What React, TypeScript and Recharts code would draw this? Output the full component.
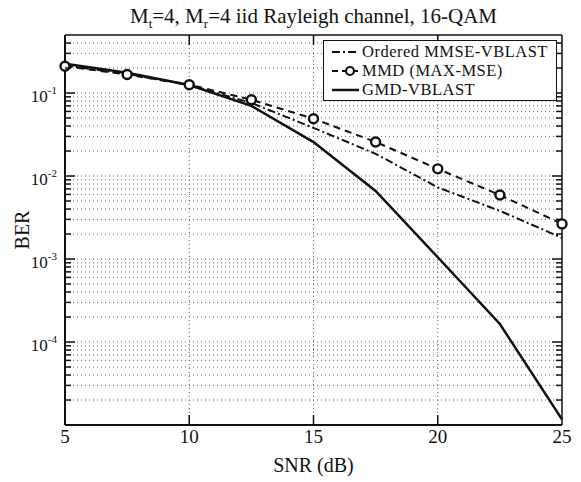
import { LineChart, Line, XAxis, YAxis, ReferenceLine, Legend } from 'recharts';

// SNR points (dB) and BER values
const snr = [5, 7.5, 10, 12.5, 15, 17.5, 20, 22.5, 25];
const orderedMmse = [0.215, 0.17, 0.124, 0.076, 0.038, 0.0185, 0.0073, 0.0038, 0.0018];
const mmd = [0.21, 0.167, 0.126, 0.083, 0.049, 0.0257, 0.0122, 0.0059, 0.00265];
const gmd = [0.225, 0.175, 0.125, 0.07, 0.0256, 0.0066, 0.00105, 0.000165, 0.0000117];

const xTicks = [5, 10, 15, 20, 25];
const xGrid = [10, 15, 20];
const decades = [1e-5, 1e-4, 1e-3, 1e-2, 1e-1];
const labelledDecades = [1e-4, 1e-3, 1e-2, 1e-1];
const decadeExp: Record<string, string> = { '0.0001': '-4', '0.001': '-3', '0.01': '-2', '0.1': '-1' };
const minorSteps = [2, 3, 4, 5, 6, 7, 8, 9];
const yDomain: [number, number] = [1e-5, 0.5];

const data = snr.map((s, i) => ({
  snr: s,
  ordered: orderedMmse[i],
  mmd: mmd[i],
  gmd: gmd[i],
}));

const minorTicks = decades
  .flatMap((d) => minorSteps.map((m) => d * m))
  .filter((v) => v < yDomain[1]);
const yTicks = [...labelledDecades, ...minorTicks];
const gridValues = [...labelledDecades, ...minorTicks];

const FONT = '"Liberation Serif", "Times New Roman", serif';
const INK = '#111';
const GRID = '#666';

const series = [
  { key: 'ordered', name: 'Ordered MMSE-VBLAST', dash: '8 3 2 3', width: 2, marker: false },
  { key: 'mmd', name: 'MMD (MAX-MSE)', dash: '6 4', width: 2, marker: true },
  { key: 'gmd', name: 'GMD-VBLAST', dash: undefined, width: 2.5, marker: false },
];

const isMajor = (v: number) => labelledDecades.some((d) => Math.abs(d - v) < d * 1e-6);

function LeftTick(props: any) {
  const { x, y, payload } = props;
  const v = payload.value;
  const major = isMajor(v);
  return (
    <g>
      <line x1={x} x2={x + (major ? 10 : 6)} y1={y} y2={y} stroke={INK} strokeWidth={1.5} />
      {major && (
        <text x={x - 8} y={y + 9} textAnchor="end" fontFamily={FONT} fontSize={17} fill={INK}>
          10
          <tspan dy={-8} fontSize={11}>
            {decadeExp[String(v)]}
          </tspan>
        </text>
      )}
    </g>
  );
}

function RightTick(props: any) {
  const { x, y, payload } = props;
  const major = isMajor(payload.value);
  return <line x1={x} x2={x - (major ? 10 : 6)} y1={y} y2={y} stroke={INK} strokeWidth={1.5} />;
}

function BottomTick(props: any) {
  const { x, y, payload } = props;
  const inner = payload.value !== 5 && payload.value !== 25;
  return (
    <g>
      {inner && <line x1={x} x2={x} y1={y} y2={y - 10} stroke={INK} strokeWidth={1.5} />}
      <text x={x} y={y + 18} textAnchor="middle" fontFamily={FONT} fontSize={19} fill={INK}>
        {payload.value}
      </text>
    </g>
  );
}

function TopTick(props: any) {
  const { x, y } = props;
  return <line x1={x} x2={x} y1={y} y2={y + 10} stroke={INK} strokeWidth={1.5} />;
}

function LegendBox() {
  return (
    <div
      style={{
        border: `1.5px solid ${INK}`,
        background: '#fff',
        fontFamily: FONT,
        fontSize: 16.5,
        letterSpacing: 0.5,
        lineHeight: '19px',
        color: INK,
        padding: '1px 0 1px 6px',
        boxSizing: 'border-box',
      }}
    >
      {series.map((s) => (
        <div key={s.key} style={{ display: 'flex', alignItems: 'center', height: 19, whiteSpace: 'nowrap' }}>
          <svg width={30} height={14} style={{ marginRight: 2 }}>
            <line x1={2} x2={29} y1={7} y2={7} stroke={INK} strokeWidth={s.width} strokeDasharray={s.dash} />
            {s.marker && <circle cx={20} cy={7} r={4} fill="#fff" stroke={INK} strokeWidth={2.2} />}
          </svg>
          <span>{s.name}</span>
        </div>
      ))}
    </div>
  );
}

const textStyle = { fontFamily: FONT, color: INK, lineHeight: '24px' } as const;

export default function App() {
  return (
    <div style={{ position: 'absolute', left: 0, top: 0, width: 581, height: 482, background: '#fff' }}>
      <div style={{ ...textStyle, position: 'absolute', left: 65, width: 497, top: 4, textAlign: 'center', fontSize: 21 }}>
        M<sub style={{ fontSize: 13, verticalAlign: -5 }}>t</sub>=4, M
        <sub style={{ fontSize: 13, verticalAlign: -5 }}>r</sub>=4 iid Rayleigh channel, 16-QAM
      </div>
      <div style={{ ...textStyle, position: 'absolute', left: 65, width: 497, top: 453, textAlign: 'center', fontSize: 20 }}>
        SNR (dB)
      </div>
      <div
        style={{
          ...textStyle,
          position: 'absolute',
          left: 22 - 40,
          top: 230 - 12,
          width: 80,
          textAlign: 'center',
          transform: 'rotate(-90deg)',
          fontSize: 20,
        }}
      >
        BER
      </div>
      <LineChart width={581} height={482} data={data} margin={{ top: 34, right: 18, bottom: 27, left: 5 }}>
        <XAxis
          dataKey="snr"
          type="number"
          domain={[5, 25]}
          ticks={xTicks}
          height={30}
          tickSize={0}
          tickMargin={0}
          tick={<BottomTick />}
          axisLine={{ stroke: INK, strokeWidth: 2 }}
          tickLine={false}
        />
        <XAxis
          xAxisId="top"
          orientation="top"
          dataKey="snr"
          type="number"
          domain={[5, 25]}
          ticks={xGrid}
          height={1}
          tickSize={0}
          tickMargin={0}
          tick={<TopTick />}
          axisLine={{ stroke: INK, strokeWidth: 1.5 }}
          tickLine={false}
        />
        <YAxis
          scale="log"
          type="number"
          domain={yDomain}
          allowDataOverflow
          ticks={yTicks}
          interval={0}
          width={60}
          tickSize={0}
          tickMargin={0}
          tick={<LeftTick />}
          axisLine={{ stroke: INK, strokeWidth: 2 }}
          tickLine={false}
        />
        <YAxis
          yAxisId="right"
          orientation="right"
          scale="log"
          type="number"
          domain={yDomain}
          allowDataOverflow
          ticks={yTicks}
          interval={0}
          width={1}
          tickSize={0}
          tickMargin={0}
          tick={<RightTick />}
          axisLine={{ stroke: INK, strokeWidth: 1.5 }}
          tickLine={false}
        />
        {gridValues.map((v) => (
          <ReferenceLine key={`h${v}`} y={v} stroke={GRID} strokeDasharray="1 3" strokeWidth={1} />
        ))}
        {xGrid.map((v) => (
          <ReferenceLine key={`v${v}`} x={v} stroke={GRID} strokeDasharray="1 3" strokeWidth={1} />
        ))}
        <Line
          type="linear"
          dataKey="ordered"
          name="Ordered MMSE-VBLAST"
          stroke={INK}
          strokeWidth={2}
          strokeDasharray="8 3 2 3"
          dot={false}
          isAnimationActive={false}
        />
        <Line
          type="linear"
          dataKey="mmd"
          name="MMD (MAX-MSE)"
          stroke={INK}
          strokeWidth={2}
          strokeDasharray="7 5"
          dot={(p: any) => (
            <circle key={`m${p.index}`} cx={p.cx} cy={p.cy} r={4.5} fill="#fff" stroke={INK} strokeWidth={2.4} />
          )}
          isAnimationActive={false}
        />
        <Line
          type="linear"
          dataKey="gmd"
          name="GMD-VBLAST"
          stroke={INK}
          strokeWidth={2.5}
          dot={false}
          isAnimationActive={false}
        />
        <Legend
          layout="vertical"
          align="center"
          verticalAlign="middle"
          wrapperStyle={{ left: 323, top: 40, width: 234 }}
          content={() => <LegendBox />}
        />
      </LineChart>
    </div>
  );
}
